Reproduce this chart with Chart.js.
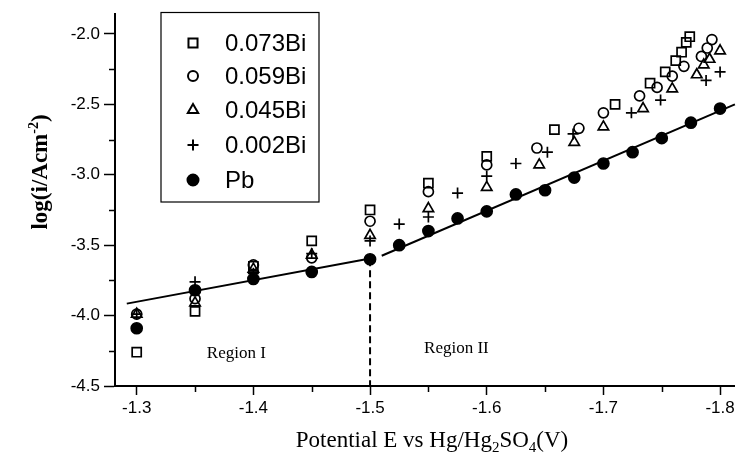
<!DOCTYPE html>
<html>
<head>
<meta charset="utf-8">
<script src="https://cdn.jsdelivr.net/npm/chart.js@4/dist/chart.umd.min.js"></script>
<style>
  html, body { margin: 0; padding: 0; background: #fff; }
  #wrap { width: 743px; height: 459px; }
</style>
</head>
<body>
<div id="wrap"><canvas id="c" width="743" height="459"></canvas></div>
<script>
// ---- data ----
const seriesNames = ["0.073Bi", "0.059Bi", "0.045Bi", "0.002Bi", "Pb"];

const bi073X = [-1.30,-1.35,-1.40,-1.45,-1.50,-1.55,-1.60,-1.658,-1.71,-1.740,-1.753,-1.762,-1.767,-1.771,-1.774];
const bi073Y = [-4.26,-3.97,-3.65,-3.47,-3.25,-3.06,-2.87,-2.68,-2.50,-2.35,-2.27,-2.19,-2.13,-2.06,-2.02];

const bi059X = [-1.30,-1.35,-1.40,-1.45,-1.50,-1.55,-1.60,-1.643,-1.679,-1.70,-1.731,-1.746,-1.759,-1.769,-1.784,-1.789,-1.793];
const bi059Y = [-3.99,-3.88,-3.64,-3.59,-3.33,-3.12,-2.93,-2.81,-2.67,-2.56,-2.44,-2.38,-2.30,-2.23,-2.16,-2.10,-2.04];

const bi045X = [-1.30,-1.35,-1.40,-1.45,-1.50,-1.55,-1.60,-1.645,-1.675,-1.70,-1.734,-1.759,-1.780,-1.786,-1.791,-1.80];
const bi045Y = [-3.99,-3.91,-3.67,-3.57,-3.43,-3.24,-3.09,-2.93,-2.77,-2.66,-2.53,-2.39,-2.29,-2.22,-2.18,-2.12];

const bi002X = [-1.30,-1.35,-1.40,-1.45,-1.50,-1.525,-1.55,-1.575,-1.60,-1.625,-1.652,-1.674,-1.724,-1.749,-1.788,-1.80];
const bi002Y = [-3.99,-3.76,-3.70,-3.56,-3.47,-3.35,-3.30,-3.13,-3.01,-2.92,-2.84,-2.71,-2.56,-2.47,-2.33,-2.27];

const pbX = [-1.30,-1.35,-1.40,-1.45,-1.50,-1.525,-1.55,-1.575,-1.60,-1.625,-1.65,-1.675,-1.70,-1.725,-1.75,-1.775,-1.80];
const pbY = [-4.09,-3.82,-3.74,-3.69,-3.60,-3.50,-3.40,-3.31,-3.26,-3.14,-3.11,-3.02,-2.92,-2.84,-2.74,-2.63,-2.53];

// fitted lines and region divider
const fit1X = [-1.2915, -1.50];
const fit1Y = [-3.915, -3.595];
const fit2X = [-1.51, -1.8127];
const fit2Y = [-3.575, -2.50];
const divX = [-1.50, -1.50];
const divY = [-3.60, -4.50];

// region annotations
const regionLabels = ["Region I", "Region II"];
const regionX = [-1.3854, -1.574];
const regionY = [-4.27, -4.235];

// axes
const xTickValues = [-1.30,-1.35,-1.40,-1.45,-1.50,-1.55,-1.60,-1.65,-1.70,-1.75,-1.80];
const yTickValues = [-4.50,-4.25,-4.00,-3.75,-3.50,-3.25,-3.00,-2.75,-2.50,-2.25,-2.00];
const xMin = -1.8127, xMax = -1.2814;
const yMin = -4.5, yMax = -1.86;

const pts = (xs, ys) => xs.map((x, i) => ({ x: x, y: ys[i] }));

const markerStyles = [
  { pointStyle: 'rect', pointRadius: 6.4, filled: false },
  { pointStyle: 'circle', pointRadius: 5, filled: false },
  { pointStyle: 'triangle', pointRadius: 6, filled: false },
  { pointStyle: 'cross', pointRadius: 5.5, filled: false },
  { pointStyle: 'circle', pointRadius: 5.5, filled: true }
];
const seriesX = [bi073X, bi059X, bi045X, bi002X, pbX];
const seriesY = [bi073Y, bi059Y, bi045Y, bi002Y, pbY];

const datasets = seriesNames.map((name, i) => ({
  label: name,
  data: pts(seriesX[i], seriesY[i]),
  showLine: false,
  pointStyle: markerStyles[i].pointStyle,
  pointRadius: markerStyles[i].pointRadius,
  pointHoverRadius: markerStyles[i].pointRadius,
  pointBorderColor: '#000',
  pointBackgroundColor: markerStyles[i].filled ? '#000' : 'rgba(255,255,255,0)',
  pointBorderWidth: 1.7,
  order: i === 4 ? 0 : 5 - i,
  clip: false,
  isSeries: true
}));

const lineDs = (label, xs, ys, dash) => ({
  label: label,
  data: pts(xs, ys),
  showLine: true,
  borderColor: '#000',
  borderWidth: 2,
  borderDash: dash || [],
  pointRadius: 0,
  pointHoverRadius: 0,
  fill: false,
  order: 1,
  clip: false,
  isSeries: false
});
datasets.push(lineDs('fit I', fit1X, fit1Y));
datasets.push(lineDs('fit II', fit2X, fit2Y));
datasets.push(lineDs('divider', divX, divY, [7, 4]));

const SERIF = '"Liberation Serif", "Times New Roman", serif';
const SANS = '"Liberation Sans", Arial, sans-serif';

const isMajor = (v, step) => Math.abs(v / step - Math.round(v / step)) < 1e-6;

const decorPlugin = {
  id: 'decor',
  afterDatasetsDraw(chart) {
    const ctx = chart.ctx;
    const xs = chart.scales.x, ys = chart.scales.y;
    ctx.save();

    // minor ticks (shorter)
    ctx.strokeStyle = '#000';
    ctx.lineWidth = 1.5;
    ctx.beginPath();
    xTickValues.forEach(v => {
      if (isMajor(v, 0.1)) return;
      const px = Math.round(xs.getPixelForValue(v)) + 0.5;
      ctx.moveTo(px, xs.top);
      ctx.lineTo(px, xs.top + 6);
    });
    yTickValues.forEach(v => {
      if (isMajor(v, 0.5)) return;
      const py = Math.round(ys.getPixelForValue(v)) + 0.5;
      ctx.moveTo(ys.right, py);
      ctx.lineTo(ys.right - 6, py);
    });
    ctx.stroke();

    // region labels
    ctx.fillStyle = '#000';
    ctx.font = '17px ' + SERIF;
    ctx.textAlign = 'center';
    ctx.textBaseline = 'middle';
    regionLabels.forEach((t, i) => {
      ctx.fillText(t, xs.getPixelForValue(regionX[i]), ys.getPixelForValue(regionY[i]));
    });

    // legend box
    ctx.lineWidth = 1.2;
    ctx.strokeStyle = '#000';
    ctx.strokeRect(161, 12.5, 158, 189.5);
    const rowY = [43, 76, 110, 145, 180];
    ctx.textAlign = 'left';
    ctx.font = '24px ' + SANS;
    const dp = Chart.helpers && Chart.helpers.drawPoint;
    chart.data.datasets.forEach((ds, i) => {
      if (!ds.isSeries) return;
      const y = rowY[i];
      ctx.strokeStyle = '#000';
      ctx.fillStyle = ds.pointBackgroundColor;
      ctx.lineWidth = 2;
      const r = ds.pointRadius;
      if (dp) {
        dp(ctx, { pointStyle: ds.pointStyle, radius: r, borderWidth: 2, rotation: 0 }, 193, y);
      }
      ctx.fillStyle = '#000';
      ctx.textBaseline = 'middle';
      ctx.fillText(ds.label, 225, y + 1);
    });

    // x-axis title with subscripts
    const parts = [
      { t: 'Potential E vs Hg/Hg', s: 0 },
      { t: '2', s: 1 },
      { t: 'SO', s: 0 },
      { t: '4', s: 1 },
      { t: '(V)', s: 0 }
    ];
    const big = '23px ' + SERIF, small = '15px ' + SERIF;
    let total = 0;
    parts.forEach(p => { ctx.font = p.s ? small : big; p.w = ctx.measureText(p.t).width; total += p.w; });
    let cx = 432 - total / 2;
    const base = 447;
    ctx.textBaseline = 'alphabetic';
    parts.forEach(p => {
      ctx.font = p.s ? small : big;
      ctx.fillText(p.t, cx, base + (p.s ? 5 : 0));
      cx += p.w;
    });

    // y-axis title with superscript
    ctx.translate(47, 172);
    ctx.rotate(-Math.PI / 2);
    const yparts = [
      { t: 'log(i/Acm', s: 0 },
      { t: '-2', s: 1 },
      { t: ')', s: 0 }
    ];
    const ybig = 'bold 23px ' + SERIF, ysmall = 'bold 14px ' + SERIF;
    let ytotal = 0;
    yparts.forEach(p => { ctx.font = p.s ? ysmall : ybig; p.w = ctx.measureText(p.t).width; ytotal += p.w; });
    let yx = -ytotal / 2;
    yparts.forEach(p => {
      ctx.font = p.s ? ysmall : ybig;
      ctx.fillText(p.t, yx, p.s ? -9 : 0);
      yx += p.w;
    });
    ctx.restore();
  }
};

new Chart(document.getElementById('c'), {
  type: 'scatter',
  data: { datasets: datasets },
  options: {
    responsive: false,
    animation: false,
    events: [],
    layout: { padding: { top: 10, right: 0, left: 0, bottom: 0 } },
    plugins: { legend: { display: false }, tooltip: { enabled: false }, title: { display: false } },
    scales: {
      x: {
        type: 'linear',
        reverse: true,
        min: xMin,
        max: xMax,
        afterBuildTicks: s => { s.ticks = xTickValues.map(v => ({ value: v })); },
        afterFit: s => { s.height = 73; },
        ticks: {
          autoSkip: false,
          maxRotation: 0,
          color: '#000',
          font: { family: SANS, size: 17 },
          padding: 3,
          callback: v => isMajor(v, 0.1) ? v.toFixed(1) : ''
        },
        grid: {
          drawOnChartArea: false,
          drawTicks: true,
          tickLength: 9,
          tickColor: c => (c.tick && isMajor(c.tick.value, 0.1)) ? '#000' : 'rgba(0,0,0,0)',
          tickWidth: 1.5
        },
        border: { display: true, color: '#000', width: 2 },
        title: { display: false }
      },
      y: {
        type: 'linear',
        min: yMin,
        max: yMax,
        afterBuildTicks: s => { s.ticks = yTickValues.map(v => ({ value: v })); },
        afterFit: s => { s.width = 115; },
        ticks: {
          autoSkip: false,
          color: '#000',
          font: { family: SANS, size: 17 },
          padding: 4,
          callback: v => isMajor(v, 0.5) ? v.toFixed(1) : ''
        },
        grid: {
          drawOnChartArea: false,
          drawTicks: true,
          tickLength: 11,
          tickColor: c => (c.tick && isMajor(c.tick.value, 0.5)) ? '#000' : 'rgba(0,0,0,0)',
          tickWidth: 1.5
        },
        border: { display: true, color: '#000', width: 2 },
        title: { display: false }
      }
    }
  },
  plugins: [decorPlugin]
});
</script>
</body>
</html>
